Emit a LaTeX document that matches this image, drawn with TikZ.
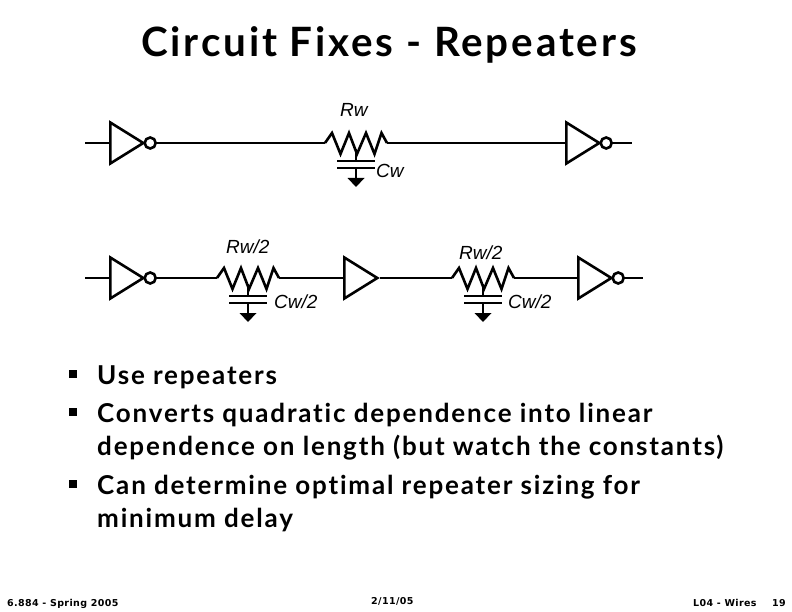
\documentclass[tikz,border=0pt]{standalone}
\usepackage{fontspec}
\setmainfont{Liberation Sans}
\newfontfamily\slidefont[LetterSpace=7,Ligatures=NoCommon]{Lato}
\newfontfamily\footfont[LetterSpace=4]{DejaVu Sans}
\usetikzlibrary{positioning,shapes.geometric}
\begin{document}
\begin{tikzpicture}[
x=1bp,y=-1bp,
wire/.style={line width=2.6bp},
gate/.style={
  draw,
  line width=2.6bp,
  isosceles triangle,
  isosceles triangle apex angle=60,
  isosceles triangle stretches,
  inner sep=0pt,
  minimum width=41bp,
  minimum height=33bp,
  anchor=lower side
  },
bubble/.style={
  draw,
  line width=2.6bp,
  circle,
  inner sep=0pt,
  minimum size=11bp,
  right=-2.5bp of #1
  },
value/.style={
  inner sep=0pt,
  font=\fontsize{19bp}{19bp}\selectfont\itshape,
  anchor=base west
  },
title/.style={
  inner sep=0pt,
  font=\fontsize{40.4bp}{40.4bp}\slidefont\bfseries,
  anchor=base west
  },
body/.style={
  inner sep=0pt,
  font=\fontsize{26bp}{26bp}\slidefont\bfseries,
  anchor=base west
  },
tick/.style={
  fill,
  inner sep=0pt,
  minimum size=8bp
  },
foot/.style={
  inner sep=0pt,
  font=\fontsize{9.5bp}{9.5bp}\footfont\bfseries,
  anchor=base west
  },
]
\useasboundingbox (0,0) rectangle (792,612);
% gates
\node[gate] (inva) at (109,143) {};
\node[bubble=inva.apex] (buba) {};
\node[gate] (invb) at (565,143) {};
\node[bubble=invb.apex] (bubb) {};
\node[gate] (invc) at (109,278) {};
\node[bubble=invc.apex] (bubc) {};
\node[gate] (buf) at (343,278) {};
\node[gate] (invd) at (577,278) {};
\node[bubble=invd.apex] (bubd) {};
% free wire ends
\coordinate (ina) at (85,143);
\coordinate (outa) at (632,143);
\coordinate (inb) at (85,278);
\coordinate (outb) at (643,278);
% resistor, capacitor and ground
\foreach \nm/\rx/\ry in {a/325/143,b/217/278,c/452/278}
{
  \coordinate (rl\nm) at (\rx,\ry);
  \coordinate (rr\nm) at (\rx+62,\ry);
  \draw[wire,line join=miter] (rl\nm) -- ++(7,-10) -- ++(8.5,21) -- ++(8.5,-21) -- ++(8,21) -- ++(9,-21) -- ++(8.5,21) -- ++(7,-21) -- (rr\nm);
  \coordinate (st\nm) at (\rx+31,\ry+6);
  \coordinate (pa\nm) at (\rx+31,\ry+18);
  \coordinate (pb\nm) at (\rx+31,\ry+25);
  \coordinate (gd\nm) at (\rx+31,\ry+35);
  \draw[wire] (st\nm) -- (pa\nm);
  \draw[wire] ([xshift=-19bp]pa\nm) -- ([xshift=19bp]pa\nm);
  \draw[wire] ([xshift=-19bp]pb\nm) -- ([xshift=19bp]pb\nm);
  \draw[wire] (pb\nm) -- (gd\nm);
  \fill ([xshift=-8.5bp]gd\nm) -- ([xshift=8.5bp]gd\nm) -- ([yshift=-9bp]gd\nm) -- cycle;
}
% wires
\draw[wire] (ina) -- (inva.lower side);
\draw[wire] (buba) -- (rla);
\draw[wire] (rra) -- (invb.lower side);
\draw[wire] (bubb) -- (outa);
\draw[wire] (inb) -- (invc.lower side);
\draw[wire] (bubc) -- (rlb);
\draw[wire] (rrb) -- (buf.lower side);
\draw[wire] (buf.apex) -- (rlc);
\draw[wire] (rrc) -- (invd.lower side);
\draw[wire] (bubd) -- (outb);
% values
\node[value] (lra) at (340,117) {Rw};
\node[value] (lca) at (376,178) {Cw};
\node[value] (lrb) at (226,253) {Rw/2};
\node[value] (lcb) at (274,308) {Cw/2};
\node[value] (lrc) at (459,259) {Rw/2};
\node[value] (lcc) at (508,308) {Cw/2};
% text
\node[title] (head) at (141,57) {Circuit Fixes - Repeaters};
\foreach \nm/\ty/\tx in {a/384/Use repeaters,b/422/Converts quadratic dependence into linear,c/455/dependence on length (but watch the constants),d/494/Can determine optimal repeater sizing for,e/527/minimum delay}
  \node[body] (ln\nm) at (97,\ty) {\tx};
\foreach \nm/\ty in {a/374,b/412,d/484}
  \node[tick] (mk\nm) at (73,\ty) {};
\node[foot] (fta) at (7,606) {6.884 - Spring 2005};
\node[foot] (ftb) at (371,604) {2/11/05};
\node[foot] (ftc) at (693,606) {L04 - Wires};
\node[foot] (ftd) at (772,606) {19};
\end{tikzpicture}
\end{document}
